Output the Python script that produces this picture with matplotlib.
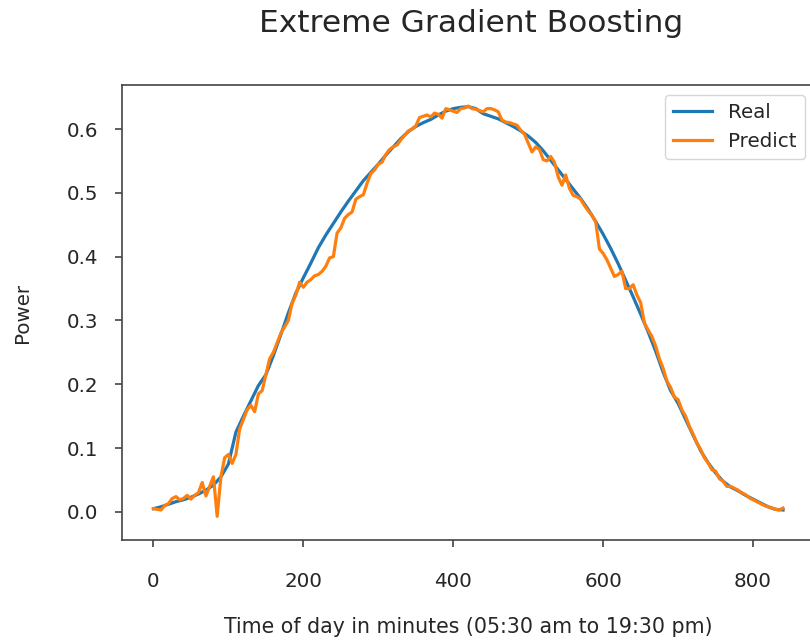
import numpy as np
import matplotlib
matplotlib.use("Agg")
import matplotlib.pyplot as plt

# minutes after 05:30, sampled every 10 min (real) and every 5 min (predicted)
t_real = np.arange(0, 841, 10)
real = [0.005, 0.008, 0.012, 0.016, 0.019, 0.023, 0.028, 0.034, 0.042, 0.055,
        0.075, 0.125, 0.150, 0.174, 0.198, 0.215, 0.245, 0.278, 0.312, 0.343,
        0.367, 0.390, 0.414, 0.434, 0.452, 0.470, 0.487, 0.503, 0.519, 0.532,
        0.545, 0.559, 0.572, 0.585, 0.596, 0.604, 0.610, 0.615, 0.622, 0.628,
        0.632, 0.634, 0.635, 0.632, 0.624, 0.620, 0.616, 0.610, 0.604, 0.597,
        0.589, 0.579, 0.566, 0.551, 0.536, 0.521, 0.506, 0.491, 0.474, 0.455,
        0.435, 0.413, 0.389, 0.363, 0.337, 0.310, 0.282, 0.252, 0.219, 0.190,
        0.170, 0.145, 0.120, 0.096, 0.077, 0.061, 0.048, 0.039, 0.033, 0.026,
        0.020, 0.014, 0.008, 0.004, 0.003]

t_pred = np.arange(0, 841, 5)
predict = [0.005, 0.004, 0.003, 0.010, 0.013, 0.021, 0.024, 0.019, 0.021, 0.026,
           0.020, 0.026, 0.030, 0.046, 0.025, 0.040, 0.055, -0.007, 0.055, 0.085,
           0.090, 0.076, 0.090, 0.130, 0.145, 0.160, 0.167, 0.157, 0.185, 0.190,
           0.215, 0.240, 0.250, 0.265, 0.280, 0.290, 0.300, 0.327, 0.340, 0.360,
           0.352, 0.360, 0.364, 0.370, 0.372, 0.377, 0.385, 0.398, 0.400, 0.437,
           0.445, 0.460, 0.466, 0.470, 0.490, 0.494, 0.497, 0.515, 0.530, 0.536,
           0.545, 0.548, 0.560, 0.568, 0.572, 0.575, 0.583, 0.590, 0.597, 0.600,
           0.605, 0.618, 0.620, 0.622, 0.619, 0.625, 0.623, 0.617, 0.632, 0.630,
           0.628, 0.626, 0.632, 0.633, 0.636, 0.632, 0.631, 0.629, 0.627, 0.632,
           0.632, 0.630, 0.627, 0.614, 0.611, 0.610, 0.608, 0.606, 0.598, 0.592,
           0.578, 0.564, 0.572, 0.568, 0.552, 0.550, 0.557, 0.548, 0.525, 0.512,
           0.528, 0.507, 0.496, 0.494, 0.490, 0.480, 0.472, 0.465, 0.455, 0.412,
           0.405, 0.395, 0.382, 0.369, 0.372, 0.377, 0.350, 0.350, 0.356, 0.340,
           0.328, 0.296, 0.285, 0.275, 0.260, 0.240, 0.225, 0.205, 0.195, 0.180,
           0.176, 0.160, 0.150, 0.134, 0.122, 0.108, 0.098, 0.085, 0.077, 0.066,
           0.064, 0.052, 0.048, 0.040, 0.040, 0.037, 0.034, 0.030, 0.027, 0.022,
           0.019, 0.016, 0.013, 0.010, 0.008, 0.006, 0.004, 0.003, 0.006]

plt.rcParams['text.color'] = '#262626'
plt.rcParams['axes.labelcolor'] = '#262626'
plt.rcParams['xtick.labelcolor'] = '#262626'
plt.rcParams['ytick.labelcolor'] = '#262626'

fig = plt.figure(figsize=(8.1, 6.41), dpi=100)
ax = fig.add_axes([0.1506, 0.1576, 0.855, 0.7098])

ax.plot(t_real, real, color="#1f77b4", lw=2.3, label="Real")
ax.plot(t_pred, predict, color="#ff7f0e", lw=2.3, label="Predict")

ax.set_xlim(-42, 882)
ax.set_ylim(-0.044, 0.669)
ax.set_xticks([0, 200, 400, 600, 800])
ax.set_yticks([0.0, 0.1, 0.2, 0.3, 0.4, 0.5, 0.6])
ax.tick_params(labelsize=14.3, length=5, width=1.2, color='#444444')
ax.tick_params(axis='x', pad=18)
ax.tick_params(axis='y', pad=12)
for s in ax.spines.values():
    s.set_linewidth(1.2)
    s.set_color('#444444')

ax.set_title("Extreme Gradient Boosting", fontsize=22.5, pad=38, x=0.504)
ax.set_xlabel("Time of day in minutes (05:30 am to 19:30 pm)", fontsize=14.8, labelpad=19)
ax.set_ylabel("Power", fontsize=14.3, labelpad=25)
ax.legend(loc="upper right", fontsize=14.3)

fig.savefig("out.png", dpi=100)
